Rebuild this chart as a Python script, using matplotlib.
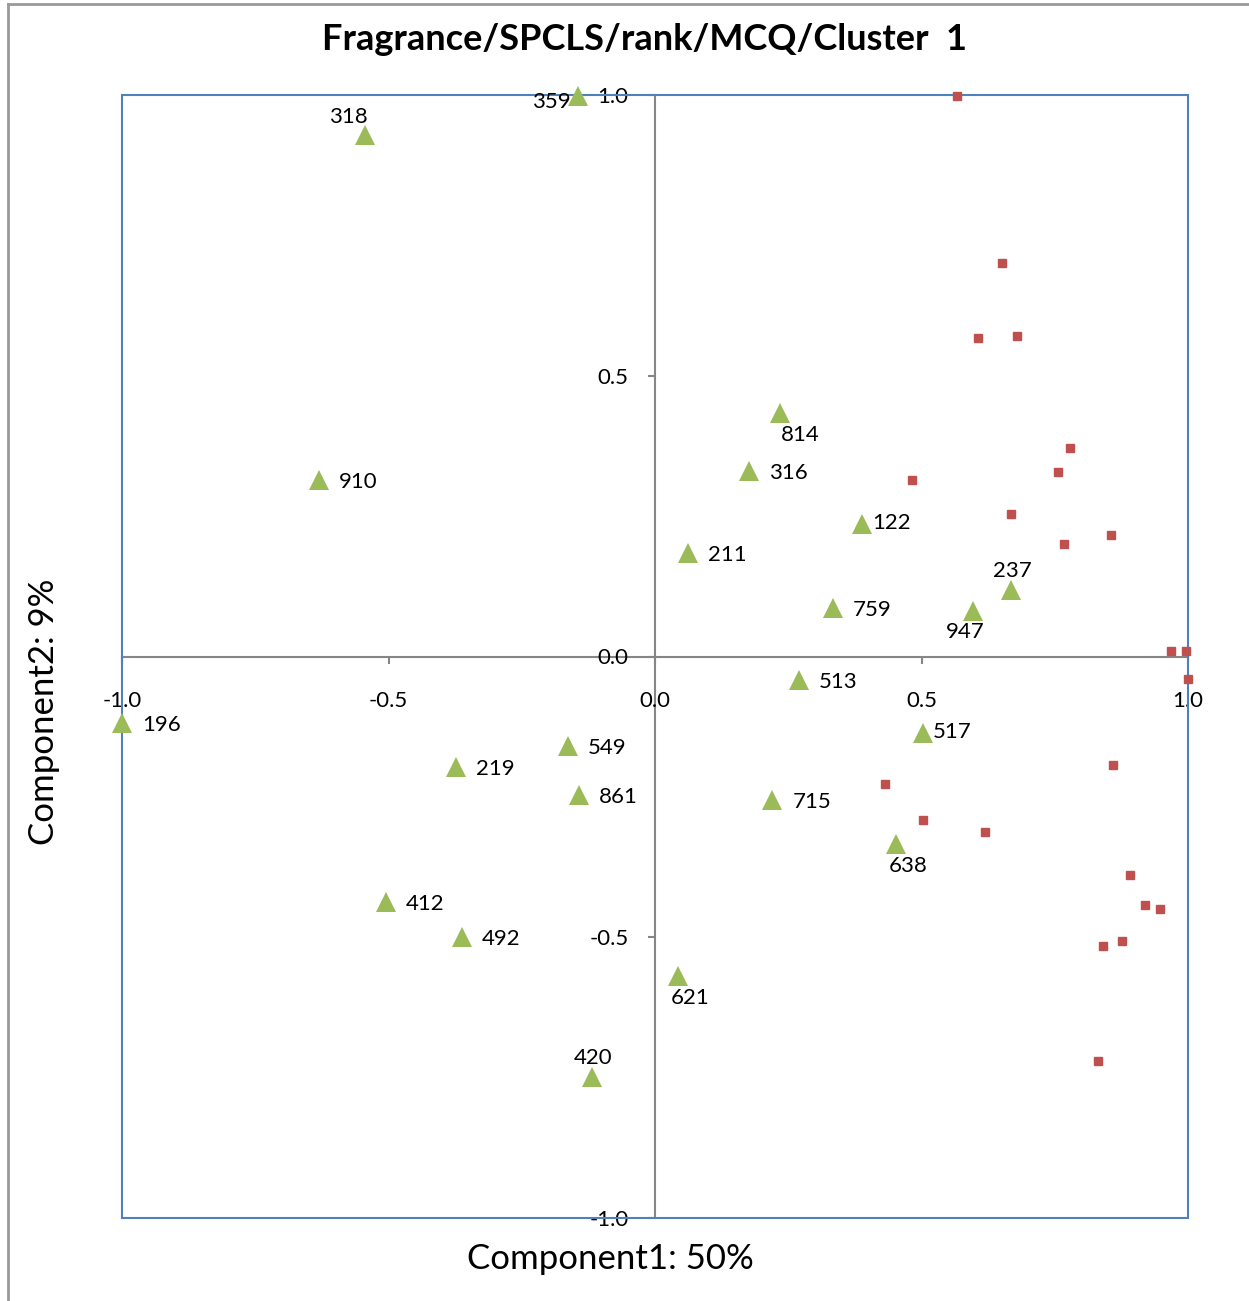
"""
loading plot, component 1 vs component 2
"""

import matplotlib.pyplot as plt
from matplotlib.lines import Line2D
from matplotlib.patches import Rectangle

plt.rcParams["font.family"] = ["Lato", "DejaVu Sans"]

# products (green triangles)
prod_names = ["318", "359", "910", "814", "316", "122", "211", "759", "947", "237",
              "513", "196", "517", "549", "219", "861", "715", "638", "412", "492",
              "621", "420"]
prod_x = [-0.544, -0.144, -0.630, 0.235, 0.176, 0.388, 0.062, 0.334, 0.597, 0.668,
          0.270, -1.000, 0.503, -0.163, -0.373, -0.143, 0.220, 0.452, -0.505, -0.362,
          0.043, -0.118]
prod_y = [0.929, 0.998, 0.314, 0.434, 0.330, 0.236, 0.184, 0.086, 0.081, 0.118,
          -0.042, -0.118, -0.136, -0.159, -0.197, -0.247, -0.256, -0.334, -0.437, -0.500,
          -0.569, -0.749]
# where each label sits relative to its marker
label_pos = ["aboveleft", "left", "right", "belowright", "right", "rightclose", "right", "right",
             "belowleft", "above", "right", "right", "rightclose", "right", "right", "right",
             "right", "below", "right", "right", "below", "above"]

# attributes (red squares)
attr_x = [0.567, 0.651, 0.606, 0.679, 0.779, 0.756, 0.482, 0.668, 0.856, 0.767,
          0.968, 0.996, 1.000, 0.859, 0.432, 0.503, 0.619, 0.891, 0.919, 0.947,
          0.876, 0.841, 0.831]
attr_y = [0.998, 0.701, 0.567, 0.571, 0.371, 0.329, 0.314, 0.254, 0.216, 0.200,
          0.010, 0.010, -0.040, -0.193, -0.227, -0.291, -0.313, -0.389, -0.443, -0.450,
          -0.507, -0.516, -0.720]

ticks = [-1.0, -0.5, 0.0, 0.5, 1.0]

offsets = {
    "right": ((20, -2), "left", "center"),
    "rightclose": ((10, 1), "left", "center"),
    "left": ((-8, -6), "right", "center"),
    "above": ((1, 19), "center", "center"),
    "aboveleft": ((-17, 18), "center", "center"),
    "below": ((12, -22), "center", "center"),
    "belowright": ((20, -22), "center", "center"),
    "belowleft": ((-8, -21), "center", "center"),
}

fig = plt.figure(figsize=(12.49, 13.01), dpi=100)
ax = fig.add_axes([122 / 1249, 1 - 1218 / 1301, 1066 / 1249, 1123 / 1301])

ax.set_xlim(-1, 1)
ax.set_ylim(-1, 1)

for side in ["top", "right"]:
    ax.spines[side].set_visible(False)
for side in ["left", "bottom"]:
    ax.spines[side].set_position("zero")
    ax.spines[side].set_color("#868686")
    ax.spines[side].set_linewidth(1.5)
    ax.spines[side].set_zorder(1)

ax.set_xticks(ticks)
ax.set_yticks(ticks)
ax.set_xticklabels([f"{t:.1f}" for t in ticks])
ax.set_yticklabels([f"{t:.1f}" for t in ticks])
ax.tick_params(axis="x", direction="out", length=5, width=1.5, color="#868686",
               pad=20, labelsize=16)
ax.tick_params(axis="y", direction="out", length=5, width=1.5, color="#868686",
               pad=14, labelsize=16)

# blue plot frame
ax.add_patch(Rectangle((0, 0), 1, 1, transform=ax.transAxes, fill=False,
                       edgecolor="#4f81bd", linewidth=1.5, clip_on=False, zorder=2))

ax.plot(attr_x, attr_y, "s", color="#c0504d", markersize=6, clip_on=False, zorder=3)
ax.plot(prod_x, prod_y, "^", color="#9bbb59", markersize=14, markeredgewidth=0,
        clip_on=False, zorder=4)

for name, x, y, pos in zip(prod_names, prod_x, prod_y, label_pos):
    off, ha, va = offsets[pos]
    ax.annotate(name, (x, y), xytext=off, textcoords="offset pixels",
                ha=ha, va=va, fontsize=16, zorder=5)

fig.text(0.516, 1 - 40 / 1301, "Fragrance/SPCLS/rank/MCQ/Cluster  1",
         ha="center", va="center", fontsize=26, fontweight="bold")
fig.text(610 / 1249, 1 - 1259 / 1301, "Component1: 50%", ha="center", va="center",
         fontsize=25)
fig.text(44 / 1249, 1 - 712 / 1301, "Component2: 9%", ha="center", va="center",
         fontsize=25, rotation=90)

# outer chart border (top and left only visible)
fig.add_artist(Line2D([8 / 1249, 8 / 1249], [0, 1 - 4 / 1301], color="#999999",
                      linewidth=2, transform=fig.transFigure))
fig.add_artist(Line2D([8 / 1249, 1], [1 - 4 / 1301, 1 - 4 / 1301], color="#999999",
                      linewidth=2, transform=fig.transFigure))

fig.savefig("out.png", dpi=100)
